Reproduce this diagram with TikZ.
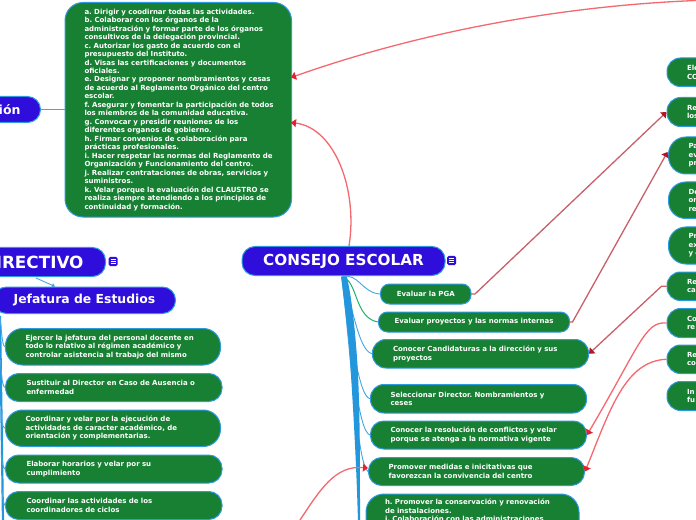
\documentclass[tikz,border=0pt]{standalone}
\usepackage{fontspec}
\setmainfont{DejaVu Sans}
\usetikzlibrary{arrows.meta}
\definecolor{gr}{HTML}{178033}
\definecolor{bd}{HTML}{2E9AE0}
\definecolor{vi}{HTML}{2F0DDB}
\definecolor{lk}{HTML}{F4686F}
\definecolor{dk}{HTML}{C8606A}
\definecolor{hd}{HTML}{E8202E}
\definecolor{hk}{HTML}{B01825}
\definecolor{tr}{HTML}{2396DC}
\definecolor{gl}{HTML}{1DB36A}
\frenchspacing
\newcommand{\widen}{\rightskip=-15bp plus 1fil\relax\hyphenpenalty=10000\relax}
\tikzset{
 x=1bp,y=-1bp,
 leaf/.style={draw=bd,fill=gr,line width=1bp,rounded corners=13bp,text=white,align=left,
   font=\frenchspacing\fontsize{7bp}{8.48bp}\selectfont\bfseries,anchor=north west,inner ysep=0pt},
 topic/.style={draw=bd,fill=vi,line width=1bp,rounded corners=13bp,text=white,anchor=north west,inner ysep=0pt,inner xsep=0pt},
 menu/.style={fill=vi,rounded corners=1.5bp,minimum width=9bp,minimum height=9bp,inner sep=0pt,
   path picture={\draw[white,line width=.7bp]
     ([xshift=2bp,yshift=2.4bp]path picture bounding box.south west)--([xshift=-2bp,yshift=2.4bp]path picture bounding box.south east)
     ([xshift=2bp]path picture bounding box.west)--([xshift=-2bp]path picture bounding box.east)
     ([xshift=2bp,yshift=-2.4bp]path picture bounding box.north west)--([xshift=-2bp,yshift=-2.4bp]path picture bounding box.north east);}},
 lred/.style={draw=lk,line width=1.3bp,-{Triangle[length=5bp,width=8bp,color=hd]}},
 dred/.style={draw=dk,line width=1.3bp,-{Triangle[length=5bp,width=8bp,color=hk]}},
 br/.style={draw=tr!85!white,line width=.9bp},
}
\newcommand{\leafnode}[7]{% name, x1, y1, x2, y2, pad, text
  \pgfmathsetmacro{\myht}{#5-#3}\pgfmathsetmacro{\mytw}{#4-#2-2*#6}\pgfmathsetmacro{\myrd}{(#5-#3)*0.47}
  \node[leaf,rounded corners=\myrd bp,inner xsep=#6bp,minimum height=\myht bp,text width=\mytw bp] (#1) at (#2,#3) {\widen #7};}
\begin{document}
\begin{tikzpicture}
\useasboundingbox (0,0) rectangle (696,520);
\clip (0,0) rectangle (696,520);
\fill[white] (0,0) rectangle (696,520);

% central topics
\node[topic,minimum width=203bp,minimum height=29bp,font=\fontsize{15.2bp}{17bp}\selectfont\bfseries] (consejo) at (241.5,246) {\raisebox{-1.5bp}{CONSEJO ESCOLAR}};
\node[topic,minimum height=29bp,anchor=north east,font=\fontsize{16.8bp}{17bp}\selectfont\bfseries] (directivo) at (106,247) {\raisebox{-1.2bp}{\hbox to 176bp{\hfil DIRECTIVO\hspace{22bp}}}};
\node[topic,minimum width=182bp,minimum height=26.5bp,font=\fontsize{12.4bp}{14bp}\selectfont\bfseries] (jefatura) at (-7,286.5) {\raisebox{-0.8bp}{Jefatura de Estudios}};
\node[topic,minimum height=26bp,anchor=north east,font=\fontsize{12.5bp}{14bp}\selectfont\bfseries] (cion) at (41,96) {\hbox to 80bp{\hfil ión\hspace{20bp}}};
\node[menu] (iconA) at (113,261.5) {};
\node[menu] (iconB) at (451.5,260.5) {};

% big box
\node[leaf,rounded corners=18bp,inner xsep=19.5bp,minimum height=214.5bp,text width=187.5bp] (big) at (64.5,2) {\widen a. Dirigir y coodirnar todas las actividades.\\
b. Colaborar con los órganos de la\\
administración y formar parte de los órganos\\
consultivos de la delegación provincial.\\
c. Autorizar los gasto de acuerdo con el\\
presupuesto del Instituto.\\
d. Visas las certificaciones y documentos\\
oficiales.\\
e. Designar y proponer nombramientos y cesas\\
de acuerdo al Reglamento Orgánico del centro\\
escolar.\\
f. Asegurar y fomentar la participación de todos\\
los miembros de la comunidad educativa.\\
g. Convocar y presidir reuniones de los\\
diferentes organos de gobierno.\\
h. Firmar convenios de colaboración para\\
prácticas profesionales.\\
i. Hacer respetar las normas del Reglamento de\\
Organización y Funcionamiento del centro.\\
j. Realizar contrataciones de obras, servicios y\\
suministros.\\
k. Velar porque la evaluación del CLAUSTRO se\\
realiza siempre atendiendo a los principios de\\
continuidad y formación.};

% left leaves
\leafnode{l1}{5}{328}{220}{364.5}{20}{Ejercer la jefatura del personal docente en\\todo lo relativo al régimen académico y\\controlar asistencia al trabajo del mismo}
\leafnode{l2}{5}{373}{221.5}{401}{21}{Sustituir al Director en Caso de Ausencia o\\enfermedad}
\leafnode{l3}{5}{409.5}{220}{446}{20}{Coordinar y velar por la ejecución de\\actividades de caracter académico, de\\orientación y complementarias.}
\leafnode{l4}{5}{454.5}{221.5}{482.5}{21}{Elaborar horarios y velar por su\\cumplimiento}
\leafnode{l5}{5}{491}{221.5}{519}{21}{Coordinar las actividades de los\\coordinadores de ciclos}

% middle leaves
\node[leaf,minimum width=90.5bp,minimum height=20bp,rounded corners=9bp,align=center] (m1) at (380,283.5) {Evaluar la PGA};
\node[leaf,minimum width=191bp,minimum height=20bp,rounded corners=9bp,align=center] (m2) at (378,311.5) {Evaluar proyectos y las normas internas};
\leafnode{m3}{372}{339}{588}{367.5}{20.5}{Conocer Candidaturas a la dirección y sus\\proyectos}
\leafnode{m4}{370}{384}{586}{412.5}{20}{Seleccionar Director. Nombramientos y\\ceses}
\leafnode{m5}{370}{420.5}{586}{448.5}{20}{Conocer la resolución de conflictos y velar\\porque se atenga a la normativa vigente}
\leafnode{m6}{368}{457}{584}{485}{20}{Promover medidas e inicitativas que\\favorezcan la convivencia del centro}
\node[leaf,rounded corners=18bp,inner xsep=19bp,inner ysep=5bp,text width=175bp] (m7) at (365.5,493.5) {\widen h. Promover la conservación y renovación\\de instalaciones.\\i. Colaboración con las administraciones\\[30bp]\mbox{}};

% right leaves (cut by the picture edge)
\newcommand{\rn}[5]{\pgfmathsetmacro{\myrd}{#3*0.47}\node[leaf,rounded corners=\myrd bp,inner xsep=#5bp,minimum height=#3bp,text width=60bp] (#1) at (#2) {#4};}
\rn{r1}{666.5,57.5}{28.5}{Ele\\CO}{20}
\rn{r2}{666.5,97}{29}{Re\\los}{20}
\rn{r3}{668,136.5}{37}{Pa\\ev\\pr}{20}
\rn{r4}{668,181.5}{36.5}{De\\or\\re}{20}
\rn{r5}{668,226.5}{37}{Pr\\ex\\y e}{20}
\rn{r6}{666.5,271.5}{28.5}{Re\\ca}{20}
\rn{r7}{666.5,308}{29}{Co\\re}{20}
\rn{r8}{666.5,344.5}{28.5}{Re\\co}{20}
\rn{r9}{666.5,381}{29}{In\\fu}{20}

% free ends
\coordinate (hub) at (342,277);
\coordinate (offTR) at (696,0.5);
\coordinate (offB) at (300,520);
\coordinate (lhub) at (0,316);
\coordinate (loff) at (3,522);

% trees
\draw[br] (hub) .. controls (358,272) and (362,293) .. (m1.west);
\draw[draw=gl,line width=1bp] (hub) .. controls (358,280) and (354,318) .. (m2.west);
\draw[br] (hub) .. controls (353,305) and (358,350) .. (m3.west);
\draw[br] (hub) .. controls (351,330) and (358,396) .. (m4.west);
\draw[br] (hub) .. controls (351,350) and (358,432) .. (m5.west);
\draw[br] (hub) .. controls (352,370) and (358,465) .. (m6.west);
\fill[tr] (341,276.5) .. controls (344,300) and (347,325) .. (349,345) .. controls (352,390) and (356,450) .. (358,522)
  -- (360,522) .. controls (360,450) and (360,390) .. (356,345) .. controls (354,320) and (351,295) .. (347,277) -- cycle;
\draw[draw=tr,line width=2.2bp] (lhub) .. controls (1,380) and (2,450) .. (loff);
\draw[br] (lhub) .. controls (1.5,330) and (2,346) .. (l1.west);
\draw[br] (0.5,360) .. controls (1.5,375) and (2,386) .. (l2.west);
\draw[br] (1,410) .. controls (1.5,420) and (2,427) .. (l3.west);
\draw[br] (1.5,455) .. controls (2,462) and (3,468) .. (l4.west);
\draw[br] (2,490) .. controls (2.5,497) and (3,503) .. (l5.west);
\draw[br] (cion.east) -- (big.west |- cion.east);
\draw[br,-{Triangle[length=3bp,width=4bp]}] (36,278) -- (55,286.5);

% relations
\draw[lred] (offTR) .. controls (560,6) and (420,32) .. (291,77.5);
\draw[lred] (349,246) .. controls (358,190) and (335,128) .. (291,122.5);
\draw[dred] (m1.east) -- ++(3.5,0) -- (r2.west);
\draw[dred] (m2.east) -- ++(2.5,0) -- (667.5,152);
\draw[dred] (r6.west) -- ++(-5,0) -- (m3.east);
\draw[lred] (r7.west) .. controls (645,321) and (640,345) .. (m5.east);
\draw[lred] (r8.west) .. controls (625,361) and (610,410) .. (m6.east);
\draw[lred] (offB) .. controls (320,490) and (335,465) .. (368,468);
\end{tikzpicture}
\end{document}
